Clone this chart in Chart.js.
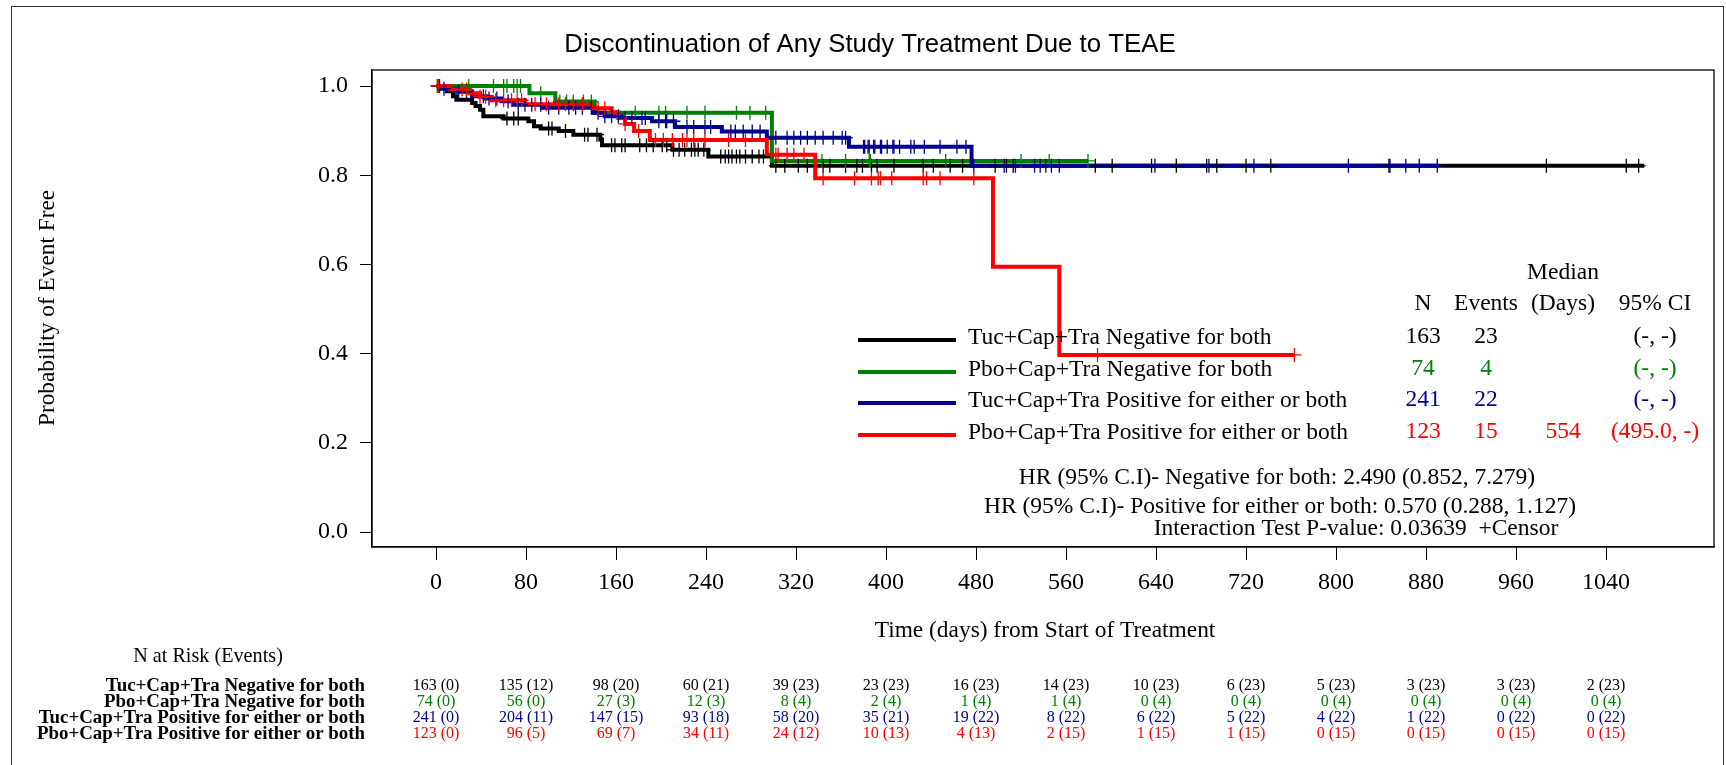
<!DOCTYPE html>
<html>
<head>
<meta charset="utf-8">
<script src="https://cdn.jsdelivr.net/npm/chart.js@4/dist/chart.umd.min.js"></script>
<style>
  html, body { margin: 0; padding: 0; background: #fff; }
  canvas { display: block; }
</style>
</head>
<body>
<canvas id="km" width="1726" height="765"></canvas>
<script>
// axis ticks
var xTickDays = [0, 80, 160, 240, 320, 400, 480, 560, 640, 720, 800, 880, 960, 1040];
var yTicks = [0, 0.2, 0.4, 0.6, 0.8, 1.0];

// groups
var groupNames = [
    'Tuc+Cap+Tra Negative for both',
    'Pbo+Cap+Tra Negative for both',
    'Tuc+Cap+Tra Positive for either or both',
    'Pbo+Cap+Tra Positive for either or both'
];
var groupColors = ['#000000', '#008000', '#000090', '#ff0000'];

// KM steps (day of event, survival after it)
var blackEventDays = [9.5, 15, 18, 32, 35, 39, 42, 60, 82, 87, 93, 109, 122, 146, 147.5, 210, 242, 298.5];
var blackSurv = [0.988, 0.977, 0.969, 0.962, 0.955, 0.947, 0.932, 0.927, 0.921, 0.910, 0.905, 0.899, 0.891, 0.880, 0.867, 0.857, 0.842, 0.821];
var blackLastDay = 1074;
var blackCensor = [3, 63, 69, 73, 100, 103, 115, 132, 135, 143, 156, 159, 165, 168, 181, 187, 193, 201, 205, 211,
    216, 221, 227, 230, 233, 238, 253, 257, 260, 263, 267, 270, 275, 281, 287, 291, 302, 310, 322, 330, 344,
    350, 364, 374, 379, 387, 392, 407, 433, 442, 457, 468, 497, 507, 513, 586, 601, 636, 658, 685, 694, 720,
    742, 847, 987, 1058, 1069];

var greenEventDays = [83, 106, 141, 298.5];
var greenSurv = [0.984, 0.965, 0.940, 0.832];
var greenLastDay = 579.5;
var greenCensor = [1, 29, 51, 60, 63, 69, 72, 75, 93, 110, 116, 122, 131, 138, 177, 198, 204, 223, 239, 267,
    279, 293, 343, 364, 385, 386, 453, 520, 545, 579.5];

var blueEventDays = [5, 18, 32, 44, 58, 69, 94, 140, 150, 165, 192, 212.5, 254, 294, 367, 476];
var blueSurv = [0.994, 0.987, 0.977, 0.972, 0.966, 0.958, 0.951, 0.940, 0.932, 0.928, 0.921, 0.908, 0.898, 0.884, 0.864, 0.821];
var blueLastDay = 890;
var blueCensor = [2, 7, 20, 27, 42, 47, 54, 64, 73, 79, 85, 93, 100, 109, 118, 124, 130, 138, 144, 150, 156,
    162, 168, 174, 183, 186, 198, 204, 205, 211, 223, 229, 239, 244, 262, 266, 273, 281, 288, 302, 312, 318,
    324, 330, 337, 344, 353, 361, 364, 380, 381, 384, 385, 389, 390, 395, 396, 401, 406, 407, 412, 422, 425,
    434, 448, 463, 471, 478, 505, 515, 532, 537, 542, 547, 554, 639, 687, 727, 811, 848, 862, 874, 890];

var redEventDays = [12.5, 30, 39, 49.5, 79, 138.5, 156, 162, 168, 176, 190, 294, 337, 495, 554];
var redSurv = [0.992, 0.984, 0.976, 0.968, 0.959, 0.950, 0.941, 0.928, 0.915, 0.899, 0.879, 0.846, 0.793, 0.595, 0.397];
var redLastDay = 763;
var redCensor = [2, 23, 27, 39, 44, 53, 60, 67, 72, 76, 88, 98, 109, 115, 122, 130, 144, 150, 168, 180, 195,
    202, 210, 219, 223, 229, 239, 260, 275, 302, 304, 312, 318, 327, 344, 372, 387, 393, 395, 405, 433, 436,
    448, 478, 588, 763];

// number at risk (events) at each x tick
var blackAtRisk = [163, 135, 98, 60, 39, 23, 16, 14, 10, 6, 5, 3, 3, 2];
var blackEvents = [0, 12, 20, 21, 23, 23, 23, 23, 23, 23, 23, 23, 23, 23];
var greenAtRisk = [74, 56, 27, 12, 8, 2, 1, 1, 0, 0, 0, 0, 0, 0];
var greenEvents = [0, 0, 3, 3, 4, 4, 4, 4, 4, 4, 4, 4, 4, 4];
var blueAtRisk = [241, 204, 147, 93, 58, 35, 19, 8, 6, 5, 4, 1, 0, 0];
var blueEvents = [0, 11, 15, 18, 20, 21, 22, 22, 22, 22, 22, 22, 22, 22];
var redAtRisk = [123, 96, 69, 34, 24, 10, 4, 2, 1, 1, 0, 0, 0, 0];
var redEvents = [0, 5, 7, 11, 12, 13, 13, 15, 15, 15, 15, 15, 15, 15];

// summary table
var summaryN = [163, 74, 241, 123];
var summaryEvents = [23, 4, 22, 15];
var summaryMedian = ['', '', '', '554'];
var summaryCI = ['(-, -)', '(-, -)', '(-, -)', '(495.0, -)'];
var hrLines = [
    'HR (95% C.I)- Negative for both: 2.490 (0.852, 7.279)',
    'HR (95% C.I)- Positive for either or both: 0.570 (0.288, 1.127)',
    'Interaction Test P-value: 0.03639  +Censor'
];

var SERIF = '"Liberation Serif", "Times New Roman", serif';
var SANS = '"Liberation Sans", Arial, sans-serif';

var groups = [
    { days: blackEventDays, surv: blackSurv, last: blackLastDay, censor: blackCensor, atRisk: blackAtRisk, ev: blackEvents },
    { days: greenEventDays, surv: greenSurv, last: greenLastDay, censor: greenCensor, atRisk: greenAtRisk, ev: greenEvents },
    { days: blueEventDays, surv: blueSurv, last: blueLastDay, censor: blueCensor, atRisk: blueAtRisk, ev: blueEvents },
    { days: redEventDays, surv: redSurv, last: redLastDay, censor: redCensor, atRisk: redAtRisk, ev: redEvents }
];

function survAt(g, t) {
    var s = 1;
    for (var i = 0; i < g.days.length; i++) {
        if (g.days[i] <= t) s = g.surv[i];
    }
    return s;
}

function stepPoints(g) {
    var pts = [{ x: 0, y: 1 }];
    for (var i = 0; i < g.days.length; i++) pts.push({ x: g.days[i], y: g.surv[i] });
    pts.push({ x: g.last, y: g.surv[g.surv.length - 1] });
    return pts;
}

// font size that makes text span a given width
function fitSize(ctx, text, family, weight, width) {
    ctx.font = weight + ' 100px ' + family;
    return 100 * width / ctx.measureText(text).width;
}

var datasets = [];
groups.forEach(function (g, i) {
    datasets.push({
        label: groupNames[i],
        data: stepPoints(g),
        stepped: 'before',
        borderColor: groupColors[i],
        borderWidth: 4,
        pointRadius: 0,
        fill: false,
        order: 10 - i
    });
});
groups.forEach(function (g, i) {
    datasets.push({
        label: groupNames[i] + ' censor',
        data: g.censor.map(function (d) { return { x: d, y: survAt(g, d) }; }),
        showLine: false,
        pointStyle: 'cross',
        pointRadius: 7,
        pointBorderWidth: 1.3,
        borderColor: groupColors[i],
        backgroundColor: groupColors[i],
        order: 5 - i
    });
});

var decorPlugin = {
    id: 'decor',
    beforeDraw: function (chart) {
        var ctx = chart.ctx;
        ctx.save();
        ctx.fillStyle = '#fff';
        ctx.fillRect(0, 0, chart.width, chart.height);
        ctx.restore();
    },
    afterDraw: function (chart) {
        var ctx = chart.ctx;
        var a = chart.chartArea;
        var xs = chart.scales.x;
        ctx.save();

        // outer frame
        ctx.strokeStyle = '#333';
        ctx.lineWidth = 1;
        ctx.strokeRect(11.5, 6.5, 1712, 800);

        // plot frame
        ctx.strokeStyle = '#000';
        ctx.lineWidth = 1.3;
        ctx.strokeRect(a.left, a.top, a.right - a.left, a.bottom - a.top);

        // title
        var t = 'Discontinuation of Any Study Treatment Due to TEAE';
        ctx.fillStyle = '#000';
        ctx.textAlign = 'center';
        ctx.textBaseline = 'middle';
        ctx.font = fitSize(ctx, t, SANS, 'normal', 612).toFixed(1) + 'px ' + SANS;
        ctx.fillText(t, 870, 45);

        // y title
        var yt = 'Probability of Event Free';
        ctx.save();
        ctx.translate(48, 308);
        ctx.rotate(-Math.PI / 2);
        ctx.font = fitSize(ctx, yt, SERIF, 'normal', 236).toFixed(1) + 'px ' + SERIF;
        ctx.fillText(yt, 0, 0);
        ctx.restore();

        // x title
        var xt = 'Time (days) from Start of Treatment';
        ctx.font = fitSize(ctx, xt, SERIF, 'normal', 341).toFixed(1) + 'px ' + SERIF;
        ctx.fillText(xt, 1045, 631);

        // legend with summary table
        var legSize = fitSize(ctx, groupNames[2], SERIF, 'normal', 379);
        var legFont = legSize.toFixed(1) + 'px ' + SERIF;
        var rowsY = [340, 372, 403, 435];
        var colN = 1423, colEv = 1486, colMed = 1563, colCI = 1655;
        ctx.font = legFont;
        ctx.fillStyle = '#000';
        ctx.textAlign = 'center';
        ctx.fillText('Median', colMed, 273);
        ctx.fillText('N', colN, 304);
        ctx.fillText('Events', colEv, 304);
        ctx.fillText('(Days)', colMed, 304);
        ctx.fillText('95% CI', colCI, 304);
        rowsY.forEach(function (y, i) {
            ctx.strokeStyle = groupColors[i];
            ctx.lineWidth = 4;
            ctx.beginPath();
            ctx.moveTo(858, y);
            ctx.lineTo(956, y);
            ctx.stroke();
            ctx.fillStyle = '#000';
            ctx.textAlign = 'left';
            ctx.fillText(groupNames[i], 968, y - 2);
            ctx.fillStyle = groupColors[i];
            ctx.textAlign = 'center';
            ctx.fillText(String(summaryN[i]), colN, y - 3);
            ctx.fillText(String(summaryEvents[i]), colEv, y - 3);
            ctx.fillText(summaryMedian[i], colMed, y - 3);
            ctx.fillText(summaryCI[i], colCI, y - 3);
        });

        // hazard ratio lines
        var hrFont = fitSize(ctx, hrLines[1], SERIF, 'normal', 592).toFixed(1) + 'px ' + SERIF;
        ctx.font = hrFont;
        ctx.fillStyle = '#000';
        ctx.textAlign = 'center';
        ctx.fillText(hrLines[0], 1277, 478);
        ctx.fillText(hrLines[1], 1280, 507);
        ctx.fillText(hrLines[2], 1356, 529);

        // number at risk table
        var nr = 'N at Risk (Events)';
        ctx.font = fitSize(ctx, nr, SERIF, 'normal', 150).toFixed(1) + 'px ' + SERIF;
        ctx.fillText(nr, 208, 657);
        var riskY = [686, 702, 718, 734];
        var lblFont = fitSize(ctx, groupNames[2], SERIF, 'bold', 327).toFixed(1) + 'px ' + SERIF;
        groups.forEach(function (g, i) {
            ctx.font = 'bold ' + lblFont;
            ctx.fillStyle = '#000';
            ctx.textAlign = 'right';
            ctx.fillText(groupNames[i], 365, riskY[i]);
            ctx.font = '16px ' + SERIF;
            ctx.fillStyle = groupColors[i];
            ctx.textAlign = 'center';
            xTickDays.forEach(function (d, k) {
                ctx.fillText(g.atRisk[k] + ' (' + g.ev[k] + ')', xs.getPixelForValue(d), riskY[i]);
            });
        });
        ctx.restore();
    }
};

new Chart(document.getElementById('km').getContext('2d'), {
    type: 'line',
    data: { datasets: datasets },
    options: {
        responsive: false,
        animation: false,
        devicePixelRatio: 1,
        layout: { padding: { left: 0, right: 12, top: 70, bottom: 118 } },
        plugins: {
            legend: { display: false },
            tooltip: { enabled: false },
            title: { display: false }
        },
        scales: {
            x: {
                type: 'linear',
                min: -57,
                max: 1136,
                afterBuildTicks: function (axis) {
                    axis.ticks = xTickDays.map(function (v) { return { value: v }; });
                },
                afterFit: function (scale) { scale.height = 100; },
                ticks: {
                    autoSkip: false,
                    maxRotation: 0,
                    padding: 8,
                    color: '#000',
                    font: { family: SERIF, size: 24 },
                    callback: function (v) { return String(v); }
                },
                grid: { drawOnChartArea: false, drawTicks: true, tickLength: 13, color: '#000', lineWidth: 1 },
                border: { display: true, color: '#000', width: 1.3 }
            },
            y: {
                type: 'linear',
                min: -0.0336,
                max: 1.0359,
                afterBuildTicks: function (axis) {
                    axis.ticks = yTicks.map(function (v) { return { value: v }; });
                },
                afterFit: function (scale) { scale.width = 372; },
                ticks: {
                    padding: 12,
                    color: '#000',
                    font: { family: SERIF, size: 24 },
                    callback: function (v) { return Number(v).toFixed(1); }
                },
                grid: { drawOnChartArea: false, drawTicks: true, tickLength: 12, color: '#000', lineWidth: 1 },
                border: { display: true, color: '#000', width: 1.3 }
            }
        }
    },
    plugins: [decorPlugin]
});
</script>
</body>
</html>
